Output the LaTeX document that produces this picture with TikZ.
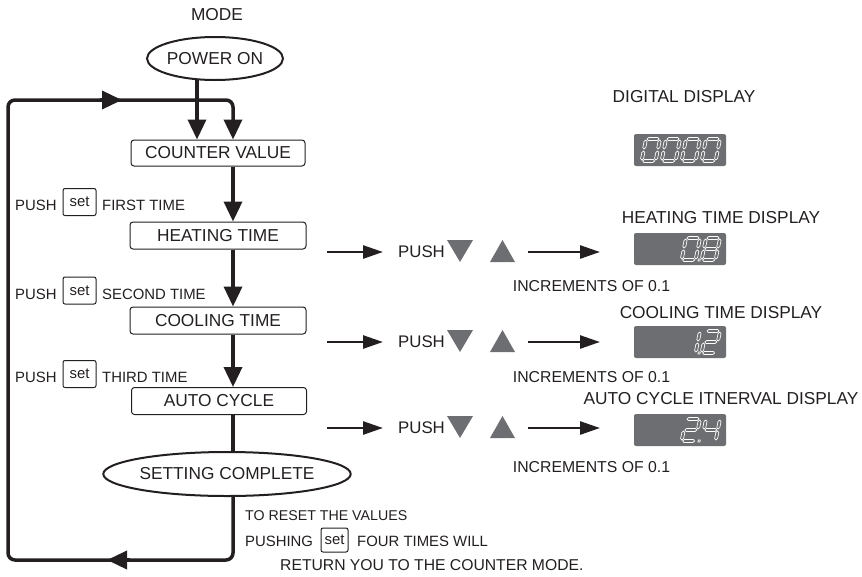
\documentclass[tikz,border=0pt]{standalone}
\usepackage{fontspec}
\setmainfont{Liberation Sans}
\usetikzlibrary{arrows.meta,shapes.geometric,calc}
\definecolor{ink}{HTML}{231F20}
\definecolor{dgray}{HTML}{6D6E71}
\newcommand\SegH[3]{\draw[seg] (#1,#3) -- (#1+1.5,#3-1.5) -- (#2-1.5,#3-1.5) -- (#2,#3) -- (#2-1.5,#3+1.5) -- (#1+1.5,#3+1.5) -- cycle;}
\newcommand\SegV[3]{\draw[seg] (#3,#1) -- (#3+1.5,#1+1.5) -- (#3+1.5,#2-1.5) -- (#3,#2) -- (#3-1.5,#2-1.5) -- (#3-1.5,#1+1.5) -- cycle;}
\newcommand\SegA{\SegH{1}{13}{0}}
\newcommand\SegB{\SegV{1}{10}{14}}
\newcommand\SegC{\SegV{12}{21}{14}}
\newcommand\SegD{\SegH{1}{13}{22}}
\newcommand\SegE{\SegV{12}{21}{0}}
\newcommand\SegF{\SegV{1}{10}{0}}
\newcommand\SegG{\SegH{1}{13}{11}}
\newcommand\SegDP{\draw[seg] (16.5,21) rectangle (18.5,23);}
\newcommand\SevenSeg[3]{\begin{scope}[shift={(#1,#2)},xslant=0.2]#3\end{scope}}
\begin{document}
\begin{tikzpicture}[x=1pt,y=-1pt,
  big/.style={font=\fontsize{17.3}{20}\selectfont, text=ink, inner sep=0pt},
  small/.style={font=\fontsize{14.9}{17}\selectfont, text=ink, inner sep=0pt},
  mid/.style={font=\fontsize{15.8}{18}\selectfont, text=ink, inner sep=0pt},
  pushr/.style={font=\fontsize{16.8}{19}\selectfont, text=ink, inner sep=0pt},
  flowbox/.style={draw=ink, line width=1pt, rounded corners=3pt, big},
  oval/.style={ellipse, draw=ink, line width=2pt, big},
  setbox/.style={draw=ink, line width=1pt, rounded corners=2pt, small},
  flow/.style={draw=ink, line width=3.5pt},
  fhead/.style={-{Triangle[length=20pt,width=18pt]}},
  rarrow/.style={draw=ink, line width=2.6pt, -{Triangle[length=20pt,width=13pt]}},
  disp/.style={fill=dgray, rounded corners=2pt, minimum width=92pt, minimum height=32pt, inner sep=0pt},
  seg/.style={draw=white, line width=0.7pt},
  tri/.style={fill=dgray},
]
\useasboundingbox (0,0) rectangle (862,576);

% left flow
\node[big] (mode) at (217,15) {MODE};
\node[oval, minimum width=118pt, minimum height=43pt] (pw) at (215,58.5) {POWER ON};
\node[flowbox, minimum width=174pt, minimum height=26pt] (cv) at (218,153) {COUNTER VALUE};
\node[flowbox, minimum width=176pt, minimum height=27pt] (ht) at (218,235.5) {HEATING TIME};
\node[flowbox, minimum width=176pt, minimum height=27pt] (ct) at (218,320.5) {COOLING TIME};
\node[flowbox, minimum width=175pt, minimum height=27pt] (ac) at (219,401) {AUTO CYCLE};
\node[oval, minimum width=206pt, minimum height=44pt] (sc) at (227,474) {SETTING COMPLETE};

\coordinate (vx) at (233,0);
\coordinate (pwa) at (197,79);
\coordinate (bl) at (8,560);
\coordinate (tl) at (8,100);
\coordinate (b1) at (130,560);
\coordinate (barr) at (107,560);
\coordinate (t1) at (100,100);
\coordinate (tarr) at (122,100);

\draw[flow, fhead] (pwa) -- (cv.north -| pwa);
\draw[flow, rounded corners=7pt, fhead] (sc.south -| vx) |- (bl) -- (tl) -| (cv.north -| vx);
\draw[flow, fhead] (b1) -- (barr);
\draw[flow, fhead] (t1) -- (tarr);
\draw[flow, fhead] (cv.south -| vx) -- (ht.north -| vx);
\draw[flow, fhead] (ht.south -| vx) -- (ct.north -| vx);
\draw[flow, fhead] (ct.south -| vx) -- (ac.north -| vx);
\draw[flow] (ac.south -| vx) -- (sc.north -| vx);

% left labels
\node[small, anchor=west] (p1) at (15,205) {PUSH};
\node[setbox, minimum width=33pt, minimum height=27pt] (s1) at (79.5,202) {set};
\node[small, anchor=west] (f1) at (102,205) {FIRST TIME};
\node[small, anchor=west] (p2) at (15,294) {PUSH};
\node[setbox, minimum width=33pt, minimum height=27pt] (s2) at (79.5,290.5) {set};
\node[small, anchor=west] (f2) at (102,294) {SECOND TIME};
\node[small, anchor=west] (p3) at (15,377.5) {PUSH};
\node[setbox, minimum width=33pt, minimum height=27pt] (s3) at (79.5,374) {set};
\node[small, anchor=west] (f3) at (102,377.5) {THIRD TIME};

% bottom text
\node[small, font=\fontsize{14.2}{17}\selectfont, anchor=west] (r1) at (245,516) {TO RESET THE VALUES};
\node[small, anchor=west] (r2) at (245,541) {PUSHING};
\node[setbox, minimum width=27pt, minimum height=24pt] (s4) at (334.5,540) {set};
\node[small, anchor=west] (r3) at (357,541) {FOUR TIMES WILL};
\node[small, font=\fontsize{15.7}{18}\selectfont, anchor=west] (r4) at (280,565) {RETURN YOU TO THE COUNTER MODE.};

% right side
\node[big] (dd) at (684,97) {DIGITAL DISPLAY};
\node[disp] (d0) at (680,150) {};
\node[big] (hd) at (721,218) {HEATING TIME DISPLAY};
\node[disp] (d1) at (680,249) {};
\node[mid] (i1) at (591.5,286) {INCREMENTS OF 0.1};
\node[big] (cd) at (721,313) {COOLING TIME DISPLAY};
\node[disp] (d2) at (680,342) {};
\node[mid] (i2) at (591.5,377) {INCREMENTS OF 0.1};
\node[big] (ad) at (721,399) {AUTO CYCLE ITNERVAL DISPLAY};
\node[disp] (d3) at (680,430) {};
\node[mid] (i3) at (591.5,467) {INCREMENTS OF 0.1};

\foreach \r/\n in {252/1,342/2,428/3}{
  \coordinate (as\n) at (327,\r);
  \coordinate (ae\n) at (383,\r);
  \coordinate (bs\n) at (528,\r);
  \coordinate (be\n) at (600,\r);
  \draw[rarrow] (as\n) -- (ae\n);
  \node[pushr, anchor=west] (push\n) at (398,\r) {PUSH};
  \fill[tri] (447,\r-12) -- (473,\r-12) -- (460,\r+10) -- cycle;
  \fill[tri] (490,\r+10) -- (515,\r+10) -- (502.5,\r-12) -- cycle;
  \draw[rarrow] (bs\n) -- (be\n);
}

% digits
\SevenSeg{646}{139}{\SegA\SegB\SegC\SegD\SegE\SegF}
\SevenSeg{666}{139}{\SegA\SegB\SegC\SegD\SegE\SegF}
\SevenSeg{686}{139}{\SegA\SegB\SegC\SegD\SegE\SegF}
\SevenSeg{706}{139}{\SegA\SegB\SegC\SegD\SegE\SegF}

\SevenSeg{686}{238}{\SegA\SegB\SegC\SegD\SegE\SegF\SegDP}
\SevenSeg{706}{238}{\SegA\SegB\SegC\SegD\SegE\SegF\SegG}

\SevenSeg{686}{331}{\SegB\SegC\SegDP}
\SevenSeg{706}{331}{\SegA\SegB\SegG\SegE\SegD}

\SevenSeg{686}{419}{\SegA\SegB\SegG\SegE\SegD\SegDP}
\SevenSeg{706}{419}{\SegF\SegG\SegB\SegC}
\end{tikzpicture}
\end{document}
